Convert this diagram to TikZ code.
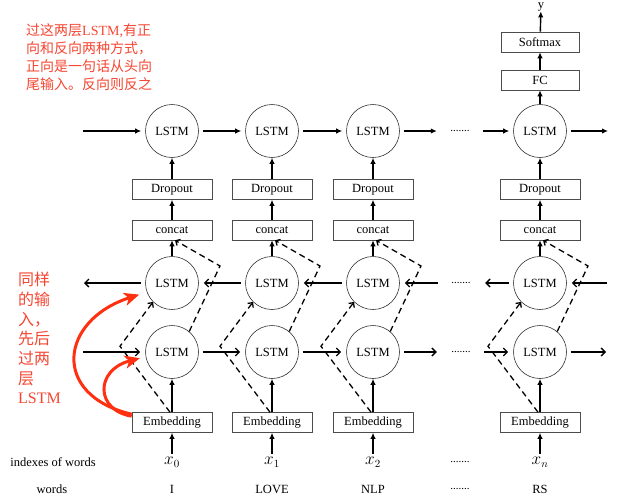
\documentclass[tikz,border=0pt]{standalone}
\usepackage{fontspec}
\setmainfont{Liberation Serif}
\newfontfamily\tnr{Liberation Serif}
\newfontfamily\cjk{Noto Sans CJK SC}
\usetikzlibrary{arrows.meta,calc}
\definecolor{redarrow}{RGB}{255,48,16}
\definecolor{redtext}{RGB}{245,70,50}
\begin{document}
\begin{tikzpicture}[x=1pt,y=-1pt,
  lstm/.style={circle,draw=black!80,line width=0.6pt,minimum size=53pt,inner sep=0pt,font=\tnr\fontsize{12.5}{15}\selectfont},
  box/.style={rectangle,draw=black!70,line width=0.6pt,minimum width=80pt,minimum height=20pt,inner sep=0pt,font=\tnr\fontsize{12.5}{15}\selectfont},
  sbox/.style={box,minimum width=78pt},
  lbl/.style={inner sep=0pt,font=\tnr\fontsize{12.5}{15}\selectfont},
  mlbl/.style={inner sep=0pt,font=\fontsize{16}{18}\selectfont},
  dotsnode/.style={inner sep=0pt,minimum width=38pt,font=\tnr\fontsize{11}{13}\selectfont},
  tarrow/.style={line width=1.4pt,-{Latex[length=6pt,width=5.5pt]},shorten <=4pt,shorten >=4pt},
  varrow/.style={line width=1.4pt,-{Latex[length=6pt,width=5.5pt]}},
  barrow/.style={line width=1.3pt,-{Straight Barb[length=4pt,width=8pt]},shorten <=4pt,shorten >=5pt},
  dasharr/.style={line width=1.3pt,dash pattern=on 6pt off 4pt,-{Straight Barb[length=3.5pt,width=7pt]}},
  redarr/.style={draw=redarrow,line width=3pt,-{Stealth[length=15pt,width=13pt,inset=4pt]}},
  redtxt/.style={text=redtext,inner sep=0pt,align=left}
]
\useasboundingbox (0,0) rectangle (617,499);

\foreach \i/\cx/\xl/\wrd in {1/172/0/I,2/272/1/LOVE,3/373/2/NLP,4/540/n/RS}{
  \node[lstm] (t\i) at (\cx,131) {LSTM};
  \node[box] (d\i) at (\cx,189.5) {Dropout};
  \node[box] (c\i) at (\cx,230) {concat};
  \node[lstm] (u\i) at (\cx,283) {LSTM};
  \node[lstm] (l\i) at (\cx,352) {LSTM};
  \node[box] (e\i) at (\cx,422.5) {Embedding};
  \node[mlbl] (x\i) at (\cx,462) {$x_{\xl}$};
  \node[lbl] (w\i) at (\cx,489) {\wrd};
  \draw[varrow] (e\i) -- (l\i);
  \draw[varrow] (u\i) -- (c\i);
  \draw[varrow] (c\i) -- (d\i);
  \draw[varrow] (d\i) -- (t\i);
  \draw[varrow,shorten <=3pt] (x\i) -- (e\i);
  \draw[dasharr] ($(e\i.north)+(-2,0)$) -- ($(e\i.north)+(-52,-66)$) -- (u\i.225);
  \draw[dasharr] (l\i.50) -- ($(l\i.center)+(48,-86)$) -- ($(c\i.south)+(3,0)$);
}

% right column head
\node[sbox] (fc) at (540,80) {FC};
\node[sbox] (sm) at (540,42) {Softmax};
\node[lbl] (yout) at (541,7) {y};
\draw[varrow] (t4) -- (fc);
\draw[varrow] (fc) -- (sm);
\draw[varrow] (sm) -- (yout);

% dots
\node[dotsnode] (dotsT) at (460,131) {.......};
\node[dotsnode] (dotsU) at (461,283) {.......};
\node[dotsnode] (dotsL) at (461,352) {.......};
\node[dotsnode] (dotsX) at (460,462) {.......};
\node[dotsnode] (dotsW) at (460,489) {.......};

% free ends
\coordinate (inT) at (79,131);
\coordinate (outT) at (612,131);
\coordinate (outU) at (79,283);
\coordinate (inU) at (611,283);
\coordinate (inL) at (79,352);
\coordinate (outL) at (611,352);

% top row
\draw[tarrow] (inT) -- (t1);
\draw[tarrow] (t1) -- (t2);
\draw[tarrow] (t2) -- (t3);
\draw[tarrow] (t3) -- (dotsT);
\draw[tarrow] (dotsT) -- (t4);
\draw[tarrow] (t4) -- (outT);

% upper (backward) row
\draw[barrow] (u1) -- (outU);
\draw[barrow] (u2) -- (u1);
\draw[barrow] (u3) -- (u2);
\draw[barrow] (dotsU) -- (u3);
\draw[barrow] (u4) -- (dotsU);
\draw[barrow] (inU) -- (u4);

% lower (forward) row
\draw[barrow] (inL) -- (l1);
\draw[barrow] (l1) -- (l2);
\draw[barrow] (l2) -- (l3);
\draw[barrow] (l3) -- (dotsL);
\draw[barrow] (dotsL) -- (l4);
\draw[barrow] (l4) -- (outL);

% row labels
\node[lbl] (ilabel) at (53,462) {indexes of words};
\node[lbl] (wlabel) at (52,489) {words};

% red arrows
\draw[redarr,shorten >=8pt] ($(e1.north west)+(0,2)$) .. controls (50,395) and (60,320) .. (u1.200);
\draw[redarr,shorten >=6pt] ($(e1.north west)+(0,4)$) .. controls (95,410) and (95,370) .. (l1.190);

% red notes
\node[redtxt,anchor=north west,font=\tnr\fontsize{14}{18.3}\selectfont] (note1) at (26,23)
  {{\cjk 过这两层}LSTM,{\cjk 有正}\\{\cjk 向和反向两种方式，}\\{\cjk 正向是一句话从头向}\\{\cjk 尾输入。反向则反之}};
\node[redtxt,anchor=north west,font=\tnr\fontsize{16}{19.7}\selectfont] (note2) at (18,272)
  {{\cjk 同样}\\{\cjk 的输}\\{\cjk 入，}\\{\cjk 先后}\\{\cjk 过两}\\{\cjk 层}\\LSTM};
\end{tikzpicture}
\end{document}
